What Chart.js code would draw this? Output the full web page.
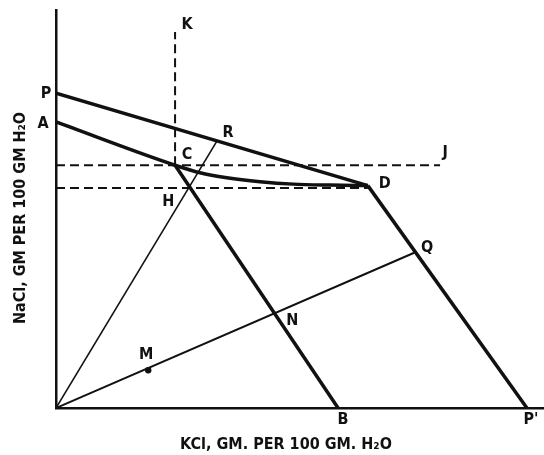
<!DOCTYPE html>
<html>
<head>
<meta charset="utf-8">
<script src="https://cdn.jsdelivr.net/npm/chart.js@4.4.1/dist/chart.umd.min.js"></script>
<style>
  html, body { margin: 0; padding: 0; background: #fff; overflow: hidden; }
  #wrap { width: 544px; height: 455px; }
  canvas { display: block; }
</style>
</head>
<body>
<div id="wrap"><canvas id="chart"></canvas></div>
<script>
// named points of the diagram (KCl, NaCl in the chart's units)
const pointNames = ["O", "P", "A", "C", "D", "B", "P'", "Q", "R", "H", "N", "M", "K", "J"];
const pointX = [0, 0, 0, 24.4, 63.9, 57.8, 96.5, 73.4, 33.0, 27.3, 44.3, 18.9, 24.4, 78.7];
const pointY = [0, 63.3, 57.5, 48.8, 44.7, 0, 0, 31.2, 53.7, 44.2, 18.7, 7.6, 75.6, 48.8];

// saturation curve between C and D
const curveX = [29.5, 35.0, 41.8, 48.6, 56.1];
const curveY = [47.3, 46.3, 45.5, 45.0, 44.8];

const axisTitleX = "KCl, GM. PER 100 GM. H₂O";
const axisTitleY = "NaCl, GM PER 100 GM H₂O";

// which points get a letter drawn, and where relative to the point
const labelNames = ["P", "A", "K", "R", "C", "H", "J", "D", "Q", "N", "M", "B", "P'"];
const labelDx = [-10, -13, 12, 11, 12, -21, 5, 17, 13, 20, -2, 5, 4];
const labelDy = [1, 2, -7, -8, -10, 14, -12, -2, -5, 6, -15, 12, 12];

const pt = name => {
  const i = pointNames.indexOf(name);
  return { x: pointX[i], y: pointY[i] };
};
const line = (names) => names.map(pt);

const INK = "#111";

function seg(data, width, dash) {
  return {
    data, showLine: true, borderColor: INK, borderWidth: width,
    borderDash: dash || [], pointRadius: 0, fill: false, tension: 0
  };
}

const curve = [pt("A"), pt("C")]
  .concat(curveX.map((x, i) => ({ x, y: curveY[i] })))
  .concat([pt("D")]);

const datasets = [
  seg(line(["P", "D"]), 3.5),
  Object.assign(seg(curve, 3.5), { cubicInterpolationMode: "monotone" }),
  seg(line(["C", "B"]), 3.5),
  seg(line(["D", "P'"]), 3.5),
  seg(line(["O", "R"]), 1.6),
  seg(line(["O", "Q"]), 2),
  seg(line(["C", "K"]), 2, [9, 5]),
  seg([{ x: 0, y: pt("C").y }, pt("J")], 2, [9, 5]),
  seg([{ x: 0, y: pt("H").y }, { x: pt("D").x, y: pt("H").y }], 2, [9, 5]),
  { data: [pt("M")], pointRadius: 3.2, pointBackgroundColor: INK, pointBorderWidth: 0, showLine: false }
];

const FONT = "bold 16px 'Liberation Sans Narrow', 'DejaVu Sans Condensed', sans-serif";

const letters = {
  id: "letters",
  afterDraw(chart) {
    const { ctx, scales: { x, y } } = chart;
    ctx.save();
    ctx.fillStyle = INK;
    ctx.textAlign = "center";
    ctx.textBaseline = "middle";
    ctx.font = FONT;
    labelNames.forEach((n, i) => {
      const p = pt(n);
      ctx.fillText(n, x.getPixelForValue(p.x) + labelDx[i], y.getPixelForValue(p.y) + labelDy[i]);
    });
    // axis titles
    ctx.fillText(axisTitleX, 286, 445);
    ctx.translate(21, 218);
    ctx.rotate(-Math.PI / 2);
    ctx.fillText(axisTitleY, 0, 0);
    ctx.restore();
  }
};

new Chart(document.getElementById("chart"), {
  type: "scatter",
  data: { datasets },
  options: {
    responsive: true,
    maintainAspectRatio: false,
    animation: false,
    events: [],
    layout: { autoPadding: false, padding: { top: 10, left: 0, right: 0, bottom: 0 } },
    plugins: { legend: { display: false }, tooltip: { enabled: false } },
    scales: {
      x: {
        min: 0, max: 100,
        ticks: { display: false },
        grid: { display: false },
        border: { display: true, color: INK, width: 2.5 },
        afterFit: s => { s.height = 47; }
      },
      y: {
        min: 0, max: 80,
        ticks: { display: false },
        grid: { display: false },
        border: { display: true, color: INK, width: 2.5 },
        afterFit: s => { s.width = 56; }
      }
    }
  },
  plugins: [letters]
});
</script>
</body>
</html>
